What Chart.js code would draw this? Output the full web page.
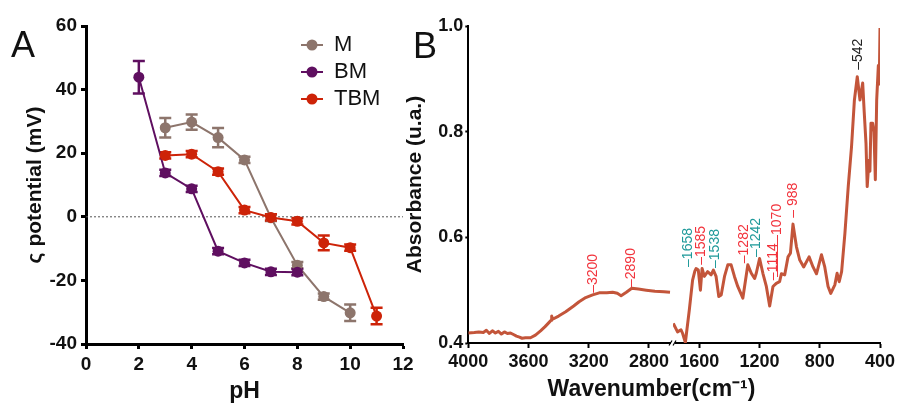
<!DOCTYPE html>
<html><head><meta charset="utf-8">
<script src="https://cdn.jsdelivr.net/npm/chart.js@4.4.1/dist/chart.umd.min.js"></script>
<style>
html,body{margin:0;padding:0;background:#fff;}
#wrap{position:relative;width:898px;height:405px;overflow:hidden;background:#fff;}
#wrap canvas{position:absolute;left:0;top:0;}
.letter{position:absolute;font-family:'Liberation Sans',Arial,sans-serif;font-size:36px;line-height:36px;color:#111;}
</style></head><body>
<div id="wrap">
<canvas id="cA" width="898" height="405"></canvas>
<canvas id="cL" width="898" height="405"></canvas>
<canvas id="cB" width="898" height="405"></canvas>
<div class="letter" style="left:11px;top:27px">A</div>
<div class="letter" style="left:413px;top:28px">B</div>
</div>
<script>
// ---------- Panel A data (zeta potential vs pH) ----------
const SERIES_NAMES = ['M', 'BM', 'TBM'];
const M_PH    = [3, 4, 5, 6, 7, 8, 9, 10];
const M_ZETA  = [28, 29.8, 24.9, 17.9, -0.3, -15.2, -25.1, -30.2];
const M_ERR   = [3.1, 2.4, 3.0, 1, 1, 1, 1, 2.6];
const BM_PH   = [2, 3, 4, 5, 6, 7, 8];
const BM_ZETA = [43.9, 13.8, 8.8, -10.8, -14.5, -17.3, -17.4];
const BM_ERR  = [5.1, 1, 1, 1, 1, 1, 1];
const TBM_PH   = [3, 4, 5, 6, 7, 8, 9, 10, 11];
const TBM_ZETA = [19.3, 19.7, 14.2, 2.1, -0.2, -1.4, -8.2, -9.7, -31.2];
const TBM_ERR  = [1, 1, 1, 1, 1, 1, 2.3, 1, 2.6];
const ZERO_X = [0, 12];
const PH_TICKS = [0, 2, 4, 6, 8, 10, 12];
const ZETA_TICKS = [-40, -20, 0, 20, 40, 60];

// ---------- Panel B data (FTIR spectrum, broken axis) ----------
const WN_HIGH = [4000,3960,3930,3900,3880,3860,3840,3820,3800,3780,3760,3740,3720,3700,3680,3660,3643,3620,3587,3554,3520,3490,3460,3450,3446,3440,3400,3353,3300,3264,3220,3174,3130,3080,3041,3010,2985,2950,2914,2870,2818,2760,2700,2660];
const ABS_HIGH = [0.419,0.420,0.421,0.420,0.424,0.418,0.423,0.419,0.422,0.417,0.421,0.418,0.419,0.416,0.413,0.411,0.409,0.410,0.410,0.415,0.423,0.431,0.440,0.443,0.451,0.445,0.451,0.459,0.470,0.478,0.486,0.491,0.495,0.495,0.496,0.494,0.4895,0.496,0.5035,0.502,0.500,0.498,0.497,0.496];
const WN_LOW = [1773,1745,1722,1711,1693,1667,1645,1630,1622,1607,1593,1582,1567,1545,1522,1507,1489,1471,1455,1433,1411,1389,1367,1345,1311,1278,1255,1233,1222,1200,1178,1155,1133,1111,1089,1067,1055,1033,1011,995,978,955,933,907,871,845,822,789,767,745,727,700,685,671,655,633,611,589,570,551,533,515,505,493,485,473,467,460,449,440,431,422,411,405,400];
const ABS_LOW = [0.437,0.421,0.425,0.418,0.401,0.462,0.519,0.536,0.541,0.538,0.500,0.541,0.526,0.535,0.529,0.538,0.526,0.488,0.491,0.526,0.548,0.548,0.526,0.507,0.485,0.548,0.532,0.522,0.532,0.560,0.532,0.507,0.470,0.507,0.513,0.516,0.531,0.529,0.563,0.570,0.625,0.582,0.557,0.544,0.563,0.544,0.531,0.567,0.544,0.507,0.494,0.510,0.532,0.516,0.535,0.608,0.696,0.772,0.860,0.904,0.860,0.892,0.838,0.778,0.696,0.746,0.725,0.816,0.816,0.800,0.709,0.860,0.925,0.890,0.996];
const WN_TICKS_HIGH = [4000, 3600, 3200, 2800];
const WN_TICKS_LOW = [1600, 1200, 800, 400];
const ABS_TICKS = [0.4, 0.6, 0.8, 1.0];
const PEAK_TEXT  = ['3200','2890','1658','1585','1538','1282','1242','1114','1070','988','542'];
const PEAK_POS   = [3168, 2918, 1673, 1589, 1493, 1300, 1222, 1113, 1080, 980, 547];
const PEAK_ABS   = [0.495, 0.506, 0.544, 0.548, 0.542, 0.551, 0.563, 0.519, 0.525, 0.637, 0.917];
const PEAK_GROUP = ['a','a','b','a','b','a','b','a','a','a','c'];

// ---------- styles ----------
const FONT = "'Liberation Sans', Arial, sans-serif";
const COLORS = ['#8d756c', '#5f0f60', '#cd2308'];
const C_SPEC = '#c3553a';
const GROUP_COLORS = {a: '#f2333c', b: '#1f9a9a', c: '#222222'};
const LEADERS = {'988': '\u2013 ', '1070': '\u2014\u2014\u2014'};

function pts(xs, ys) { return xs.map((x, i) => ({x: x, y: ys[i]})); }

const errorBars = {
  id: 'errorBars',
  beforeDatasetsDraw(chart) {
    const ctx = chart.ctx, x = chart.scales.x, y = chart.scales.y;
    chart.data.datasets.forEach(ds => {
      if (!ds.errors) return;
      ctx.save();
      ctx.strokeStyle = ds.borderColor;
      ctx.lineWidth = 2.5;
      ds.data.forEach((p, j) => {
        const e = ds.errors[j];
        const px = x.getPixelForValue(p.x);
        const yt = y.getPixelForValue(p.y + e), yb = y.getPixelForValue(p.y - e);
        ctx.beginPath();
        ctx.moveTo(px, yt); ctx.lineTo(px, yb);
        ctx.moveTo(px - 6, yt); ctx.lineTo(px + 6, yt);
        ctx.moveTo(px - 6, yb); ctx.lineTo(px + 6, yb);
        ctx.stroke();
      });
      ctx.restore();
    });
  }
};

const peakLabels = {
  id: 'peakLabels',
  afterDatasetsDraw(chart) {
    const ctx = chart.ctx, s = chart.scales;
    ctx.save();
    ctx.font = '14px ' + FONT;
    ctx.textAlign = 'left';
    ctx.textBaseline = 'middle';
    PEAK_TEXT.forEach((t, i) => {
      const xs = PEAK_POS[i] > 2000 ? s.x1 : s.x2;
      const px = xs.getPixelForValue(PEAK_POS[i]);
      const py = s.y.getPixelForValue(PEAK_ABS[i]);
      ctx.save();
      ctx.translate(px, py);
      ctx.rotate(-Math.PI / 2);
      ctx.fillStyle = GROUP_COLORS[PEAK_GROUP[i]];
      ctx.fillText((LEADERS[t] || '\u2013') + t, 0, 0);
      ctx.restore();
    });
    ctx.restore();
  }
};

const axisBreak = {
  id: 'axisBreak',
  afterDraw(chart) {
    const ctx = chart.ctx, j = chart.scales.x1.right, b = chart.scales.y.bottom;
    ctx.save();
    ctx.fillStyle = '#fff';
    ctx.fillRect(j - 2, b - 2, 4, 4);
    ctx.strokeStyle = '#000';
    ctx.lineWidth = 1.2;
    ctx.beginPath();
    ctx.moveTo(j - 4, b + 2.5); ctx.lineTo(j - 1, b - 2.5);
    ctx.moveTo(j, b + 2.5); ctx.lineTo(j + 3, b - 2.5);
    ctx.stroke();
    ctx.restore();
  }
};

function fixedTicks(arr) { return s => { s.ticks = arr.map(v => ({value: v})); }; }
const plain = v => String(v);

// ---------- Chart A ----------
const axisA = (extra) => Object.assign({
  type: 'linear',
  grid: {drawOnChartArea: false, drawTicks: true, tickLength: 5, tickWidth: 3, tickColor: '#000'},
  border: {color: '#000', width: 3},
}, extra);

new Chart(document.getElementById('cA'), {
  type: 'line',
  data: {
    datasets: [
      {label: 'M', data: pts(M_PH, M_ZETA), errors: M_ERR, borderColor: COLORS[0], backgroundColor: COLORS[0], borderWidth: 2, pointRadius: 5.5, pointBorderWidth: 0, tension: 0, order: 3},
      {label: 'BM', data: pts(BM_PH, BM_ZETA), errors: BM_ERR, borderColor: COLORS[1], backgroundColor: COLORS[1], borderWidth: 2, pointRadius: 5.5, pointBorderWidth: 0, tension: 0, order: 2},
      {label: 'TBM', data: pts(TBM_PH, TBM_ZETA), errors: TBM_ERR, borderColor: COLORS[2], backgroundColor: COLORS[2], borderWidth: 2, pointRadius: 5.5, pointBorderWidth: 0, tension: 0, order: 1},
      {label: 'zero', data: ZERO_X.map(x => ({x: x, y: 0})), borderColor: '#555', borderWidth: 1, borderDash: [2, 2], pointRadius: 0, order: 10}
    ]
  },
  options: {
    responsive: false, animation: false, devicePixelRatio: 1,
    layout: {padding: {left: 16, right: 495, top: 26, bottom: 0}},
    plugins: {legend: {display: false}, tooltip: {enabled: false}},
    scales: {
      x: axisA({
        min: 0, max: 12,
        afterBuildTicks: fixedTicks(PH_TICKS),
        afterFit: s => { s.height = 61; s.paddingLeft = 0; s.paddingRight = 0; },
        ticks: {color: '#111', font: {size: 19, weight: 'bold', family: FONT}, padding: 4, autoSkip: false, maxRotation: 0, callback: plain},
        title: {display: true, text: 'pH', color: '#111', font: {size: 23, weight: 'bold', family: FONT, lineHeight: 1}, padding: {top: 0, bottom: 2}}
      }),
      y: axisA({
        min: -40, max: 60,
        afterBuildTicks: fixedTicks(ZETA_TICKS),
        afterFit: s => { s.width = 70; },
        ticks: {color: '#111', font: {size: 19, weight: 'bold', family: FONT}, padding: 4, autoSkip: false, callback: plain},
        title: {display: true, text: 'ς potential (mV)', color: '#111', font: {size: 21, weight: 'bold', family: FONT, lineHeight: 1}, padding: {top: 9, bottom: 0}}
      })
    }
  },
  plugins: [errorBars]
});

// ---------- Legend for A ----------
function legendMarker(color) {
  const c = document.createElement('canvas');
  c.width = 24; c.height = 14;
  const g = c.getContext('2d');
  g.strokeStyle = color; g.lineWidth = 2;
  g.beginPath(); g.moveTo(1, 7); g.lineTo(23, 7); g.stroke();
  g.fillStyle = color;
  g.beginPath(); g.arc(12, 7, 5.5, 0, Math.PI * 2); g.fill();
  return c;
}
new Chart(document.getElementById('cL'), {
  type: 'line',
  data: {datasets: SERIES_NAMES.map((n, i) => ({label: n, data: [], borderColor: COLORS[i], backgroundColor: COLORS[i]}))},
  options: {
    responsive: false, animation: false, devicePixelRatio: 1,
    layout: {padding: {left: 296, top: 29}},
    scales: {x: {display: false}, y: {display: false}},
    plugins: {
      tooltip: {enabled: false},
      legend: {
        position: 'left', align: 'start',
        labels: {
          usePointStyle: true, pointStyleWidth: 22, padding: 5, color: '#111',
          font: {size: 22, family: FONT},
          generateLabels: chart => chart.data.datasets.map((d, i) => ({
            text: d.label, fillStyle: d.backgroundColor, strokeStyle: d.borderColor, lineWidth: 0,
            pointStyle: legendMarker(d.borderColor), hidden: false, datasetIndex: i, fontColor: '#111'
          }))
        }
      }
    }
  }
});

// ---------- Chart B ----------
const tickFontB = {size: 18, weight: 'bold', family: FONT};
const axisB = (extra) => Object.assign({
  type: 'linear',
  grid: {drawOnChartArea: false, drawTicks: true, tickLength: 5, tickWidth: 2, tickColor: '#000'},
  border: {color: '#000', width: 2},
  ticks: {color: '#111', font: tickFontB, padding: 3, autoSkip: false, maxRotation: 0, callback: plain}
}, extra);
const fitX = s => { s.height = 35; s.paddingLeft = 0; s.paddingRight = 0; };

new Chart(document.getElementById('cB'), {
  type: 'line',
  data: {
    datasets: [
      {label: 'FTIR 4000-2660', data: pts(WN_HIGH, ABS_HIGH), xAxisID: 'x1', yAxisID: 'y', borderColor: C_SPEC, borderWidth: 3, pointRadius: 0, tension: 0, borderJoinStyle: 'round'},
      {label: 'FTIR 1773-400', data: pts(WN_LOW, ABS_LOW), xAxisID: 'x2', yAxisID: 'y', borderColor: C_SPEC, borderWidth: 3, pointRadius: 0, tension: 0, borderJoinStyle: 'round'}
    ]
  },
  options: {
    responsive: false, animation: false, devicePixelRatio: 1,
    layout: {padding: {left: 405, right: 0, top: 26, bottom: 0}},
    plugins: {
      legend: {display: false}, tooltip: {enabled: false},
      title: {display: true, position: 'bottom', text: 'Wavenumber(cm\u207B\u00B9)', color: '#111', font: {size: 23, weight: 'bold', family: FONT, lineHeight: 1}, padding: {top: 0, bottom: 4}}
    },
    scales: {
      x1: axisB({position: 'bottom', stack: 'wn', stackWeight: 1360, reverse: true, min: 2640, max: 4000,
        afterBuildTicks: fixedTicks(WN_TICKS_HIGH), afterFit: fitX}),
      x2: axisB({position: 'bottom', stack: 'wn', stackWeight: 1375, reverse: true, min: 400, max: 1775,
        afterBuildTicks: fixedTicks(WN_TICKS_LOW), afterFit: fitX}),
      y: axisB({position: 'left', min: 0.4, max: 1.0,
        grid: {drawOnChartArea: false, drawTicks: true, tickLength: 3, tickWidth: 2, tickColor: '#000'},
        afterBuildTicks: fixedTicks(ABS_TICKS), afterFit: s => { s.width = 63.3; s.paddingTop = 0; s.paddingBottom = 0; },
        ticks: {color: '#111', font: tickFontB, padding: 2, autoSkip: false, callback: v => v.toFixed(1)},
        title: {display: true, text: 'Absorbance (u.a.)', color: '#111', font: {size: 21, weight: 'bold', family: FONT, lineHeight: 1}, padding: {top: 0, bottom: 0}}}),
      yr: {type: 'linear', position: 'right', display: true, grid: {display: false}, border: {display: false}, ticks: {display: false}, afterFit: s => { s.width = 18; }}
    }
  },
  plugins: [peakLabels, axisBreak]
});
</script>
</body></html>
